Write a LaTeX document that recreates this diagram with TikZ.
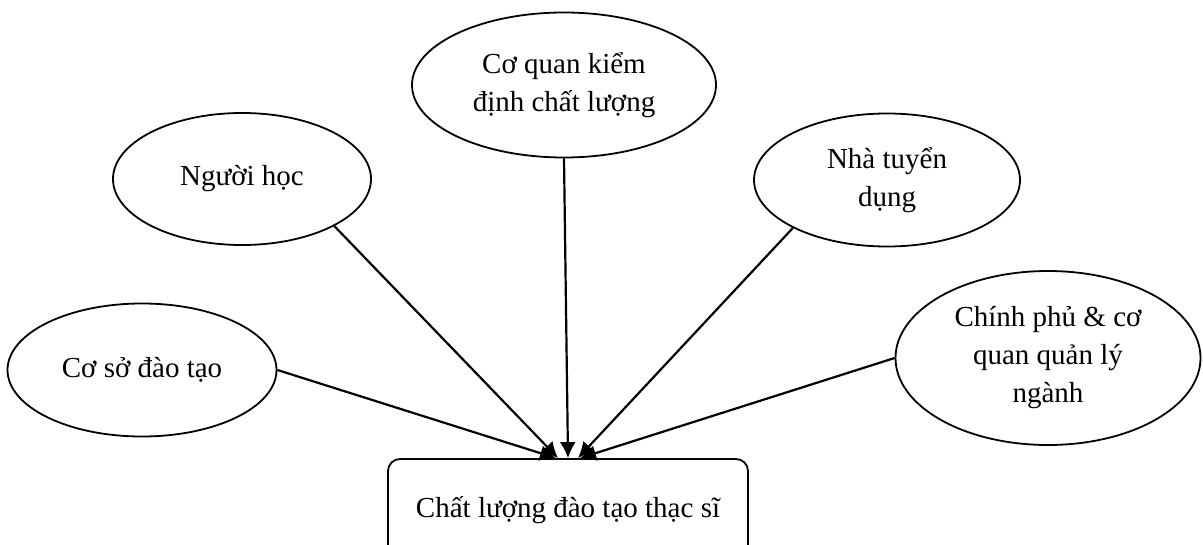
\documentclass[tikz,border=0pt]{standalone}
\usepackage{fontspec}
\setmainfont{Liberation Serif}
\usetikzlibrary{shapes.geometric,arrows.meta}
\begin{document}
\begin{tikzpicture}[x=0.5pt,y=-0.5pt,
    party/.style={ellipse,draw,line width=0.9pt,inner sep=0pt,align=center,
      font=\fontsize{14.5}{19}\selectfont},
    goal/.style={rectangle,rounded corners=6pt,draw,line width=0.9pt,align=center,
      font=\fontsize{14.5}{19}\selectfont}]
  \useasboundingbox (0,0) rectangle (1203,545);
  \draw
    (142,370) node[party,minimum width=134.5pt,minimum height=66.5pt] (csdt){Cơ sở đào tạo}
    (242,179) node[party,minimum width=129pt,minimum height=66pt] (nh){Người học}
    (564,85) node[party,minimum width=152pt,minimum height=72.5pt] (cq){Cơ quan kiểm\\định chất lượng}
    (887,180) node[party,minimum width=133pt,minimum height=66.5pt] (ntd){Nhà tuyển\\dụng}
    (1048,358) node[party,minimum width=152.5pt,minimum height=87pt] (cp){Chính phủ \& cơ\\quan quản lý\\ngành}
    (568,510) node[goal,minimum width=180pt,minimum height=51pt] (cl){Chất lượng đào tạo thạc sĩ};
  \begin{scope}[-{Latex[length=8pt,width=8pt]},line width=1.1pt]
    \draw (csdt.east) to ([xshift=-6pt]cl.north);
    \draw (nh.-27) to ([xshift=-5pt]cl.north);
    \draw (cq.south) to (cl.north);
    \draw (ntd.207) to ([xshift=5pt]cl.north);
    \draw (cp.west) to ([xshift=6pt]cl.north);
  \end{scope}
\end{tikzpicture}
\end{document}
